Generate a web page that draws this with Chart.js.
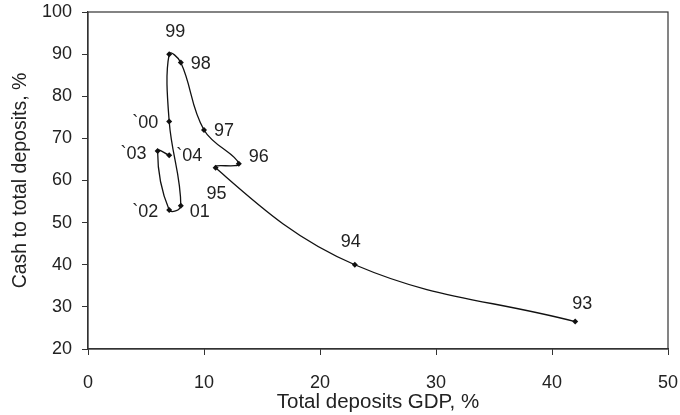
<!DOCTYPE html>
<html>
<head>
<meta charset="utf-8">
<script src="https://cdn.jsdelivr.net/npm/chart.js@4.4.1/dist/chart.umd.min.js"></script>
<style>
  html, body { margin: 0; padding: 0; background: #fff; }
  #wrap { width: 680px; height: 415px; }
</style>
</head>
<body>
<div id="wrap"><canvas id="chart" width="680" height="415"></canvas></div>
<script>
// Deposits vs cash share, 1993-2004 (in time order)
const years = ['93', '94', '95', '96', '97', '98', '99', '`00', '01', '`02', '`03', '`04'];
const depositsGdp = [42, 23, 11, 13, 10, 8, 7, 7, 8, 7, 6, 7];
const cashShare = [26.5, 40, 63, 64, 72, 88, 90, 74, 54, 53, 67, 66];

// where each year label sits relative to its point (pixels, to text centre)
const labelShift = [
    [7, -18], [-4, -23], [1, 26], [20, -7], [20, 1], [20, 1],
    [6, -22], [-24, 2], [19, 6], [-24, 2], [-24, 3], [20, 1]
];

const ink = '#222';
const fontFamily = '"Liberation Sans", Arial, sans-serif';

// box around the plot area (top and right sides)
const frame = {
    id: 'frame',
    afterDatasetsDraw(chart) {
        const a = chart.chartArea;
        const ctx = chart.ctx;
        ctx.save();
        ctx.strokeStyle = '#333';
        ctx.lineWidth = 1.2;
        ctx.strokeRect(a.left, a.top, a.right - a.left, a.bottom - a.top);
        ctx.restore();
    }
};

// year labels next to the points
const yearLabels = {
    id: 'yearLabels',
    afterDatasetsDraw(chart) {
        const meta = chart.getDatasetMeta(0);
        const ctx = chart.ctx;
        ctx.save();
        ctx.font = '18px ' + fontFamily;
        ctx.fillStyle = ink;
        ctx.textAlign = 'center';
        ctx.textBaseline = 'middle';
        meta.data.forEach((pt, i) => {
            ctx.fillText(years[i], pt.x + labelShift[i][0], pt.y + labelShift[i][1]);
        });
        ctx.restore();
    }
};

new Chart(document.getElementById('chart'), {
    type: 'scatter',
    data: {
        datasets: [{
            data: depositsGdp.map((x, i) => ({ x: x, y: cashShare[i] })),
            showLine: true,
            tension: 0.4,
            borderColor: '#111',
            borderWidth: 1.3,
            pointStyle: 'rectRot',
            pointRadius: 3,
            pointBackgroundColor: '#111',
            pointBorderColor: '#111',
            pointBorderWidth: 0
        }]
    },
    options: {
        responsive: false,
        animation: false,
        layout: { padding: { top: 12, right: 12, left: 0, bottom: 0 } },
        plugins: {
            legend: { display: false },
            tooltip: { enabled: false }
        },
        scales: {
            x: {
                type: 'linear',
                min: 0,
                max: 50,
                afterFit: (scale) => {
                    scale.height = 66;
                    scale.paddingLeft = 0;
                    scale.paddingRight = 0;
                },
                ticks: { stepSize: 10, color: ink, padding: 17, font: { family: fontFamily, size: 18 } },
                grid: { drawOnChartArea: false, drawTicks: true, tickLength: 6, color: '#333' },
                border: { display: true, color: '#333', width: 1.2 },
                title: {
                    display: true,
                    text: 'Total deposits GDP, %',
                    color: ink,
                    padding: { top: 0, bottom: 0 },
                    font: { family: fontFamily, size: 20.5 }
                }
            },
            y: {
                min: 20,
                max: 100,
                afterFit: (scale) => {
                    scale.width = 88;
                    scale.paddingTop = 0;
                    scale.paddingBottom = 0;
                },
                ticks: { stepSize: 10, color: ink, padding: 10, font: { family: fontFamily, size: 18 } },
                grid: { drawOnChartArea: false, drawTicks: true, tickLength: 6, color: '#333' },
                border: { display: true, color: '#333', width: 1.2 },
                title: {
                    display: true,
                    text: 'Cash to total deposits, %',
                    color: ink,
                    padding: { top: 9, bottom: 0 },
                    font: { family: fontFamily, size: 19.5 }
                }
            }
        }
    },
    plugins: [frame, yearLabels]
});
</script>
</body>
</html>
